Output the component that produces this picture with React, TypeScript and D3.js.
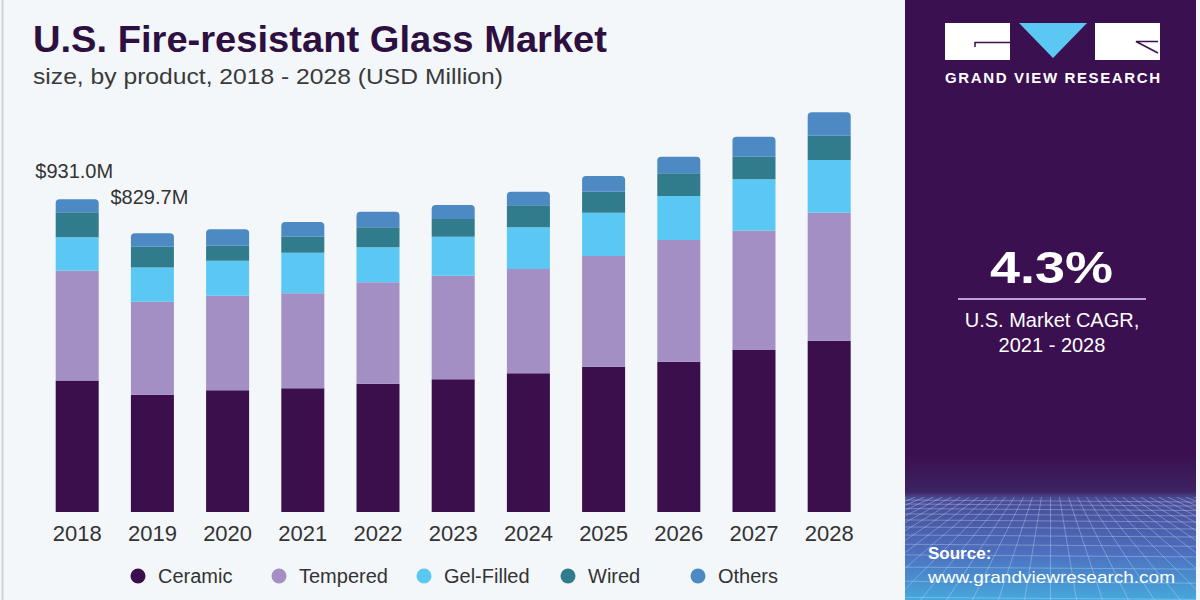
import React, { useEffect, useRef } from 'react';
import * as d3 from 'd3';

const years = ['2018', '2019', '2020', '2021', '2022', '2023', '2024', '2025', '2026', '2027', '2028'];
const ceramic = [391.5, 349.2, 362.3, 368.3, 382.0, 395.0, 412.9, 432.6, 447.4, 482.3, 510.0];
const tempered = [326.9, 276.8, 281.6, 282.8, 301.9, 308.4, 310.5, 329.6, 362.3, 355.2, 381.1];
const gelFilled = [99.4, 101.7, 104.2, 120.9, 104.2, 116.1, 124.1, 128.9, 131.0, 153.0, 156.9];
const wired = [74.4, 62.3, 44.7, 47.6, 59.5, 52.7, 65.5, 62.5, 67.6, 67.3, 72.3];
const others = [38.8, 39.7, 48.8, 43.8, 46.4, 41.7, 40.5, 46.7, 49.4, 59.5, 69.7];
const valueLabels = ['$931.0M', '$829.7M'];
const seriesNames = ['Ceramic', 'Tempered', 'Gel-Filled', 'Wired', 'Others'];
const seriesColors = ['#3b0f4b', '#a38fc4', '#5ac8f2', '#307b8c', '#4d89c2'];

const FONT = '"Liberation Sans", Arial, sans-serif';

export default function App() {
  const svgRef = useRef<SVGSVGElement>(null);

  useEffect(() => {
    if (!svgRef.current) return;
    const W = 1200, H = 600;
    const svg = d3.select(svgRef.current);
    svg.selectAll('*').remove();

    const rows = years.map((yr, i) => ({
      year: yr,
      Ceramic: ceramic[i],
      Tempered: tempered[i],
      'Gel-Filled': gelFilled[i],
      Wired: wired[i],
      Others: others[i],
    }));

    // background
    svg.append('rect').attr('width', W).attr('height', H).attr('fill', '#f3f7fa');
    svg.append('line').attr('x1', 2.5).attr('x2', 2.5).attr('y1', 0).attr('y2', H)
      .attr('stroke', '#cdd3da').attr('stroke-width', 2);

    // title
    svg.append('text').attr('x', 33).attr('y', 52)
      .attr('font-family', FONT).attr('font-weight', 'bold').attr('font-size', 36)
      .attr('fill', '#2d0f40').attr('textLength', 574).attr('lengthAdjust', 'spacingAndGlyphs')
      .text('U.S. Fire-resistant Glass Market');
    svg.append('text').attr('x', 33).attr('y', 84)
      .attr('font-family', FONT).attr('font-size', 22)
      .attr('fill', '#3a3a3a').attr('textLength', 470).attr('lengthAdjust', 'spacingAndGlyphs')
      .text('size, by product, 2018 - 2028 (USD Million)');

    // scales
    const x = d3.scaleBand<string>().domain(years).range([55.7, 850.7]).paddingInner(0.428).paddingOuter(0);
    const y = d3.scaleLinear().domain([0, 931]).range([512, 199.3]);

    const stack = d3.stack<any>().keys(seriesNames);
    const series = stack(rows);
    const color = d3.scaleOrdinal<string, string>().domain(seriesNames).range(seriesColors);

    const g = svg.append('g');
    const last = seriesNames.length - 1;
    series.forEach((s, si) => {
      g.selectAll(null)
        .data(s)
        .enter()
        .append('path')
        .attr('fill', color(s.key))
        .attr('d', (d: any) => {
          const x0 = x(d.data.year) as number;
          const w = x.bandwidth();
          const yTop = y(d[1]);
          const yBot = y(d[0]);
          const r = si === last ? 4 : 0;
          return `M${x0},${yBot}L${x0},${yTop + r}Q${x0},${yTop} ${x0 + r},${yTop}` +
            `L${x0 + w - r},${yTop}Q${x0 + w},${yTop} ${x0 + w},${yTop + r}L${x0 + w},${yBot}Z`;
        });
    });

    // value labels (2018 and 2019 only)
    const labelDy = [-21, -29];
    g.selectAll(null)
      .data(valueLabels)
      .enter()
      .append('text')
      .attr('x', (_d, i) => (x(years[i]) as number) + x.bandwidth() / 2 - 3)
      .attr('y', (_d, i) => y(series[last][i][1]) + labelDy[i])
      .attr('text-anchor', 'middle')
      .attr('font-family', FONT).attr('font-size', 20).attr('fill', '#333')
      .text(d => d);

    // x axis labels
    const axis = g.append('g').attr('transform', 'translate(0,512)')
      .call(d3.axisBottom(x).tickSize(0).tickPadding(10));
    axis.select('.domain').remove();
    axis.selectAll('text')
      .attr('font-family', FONT).attr('font-size', 22).attr('fill', '#333')
      .attr('dy', '0.85em');

    // legend
    const legendX = [138, 279, 424, 568, 698];
    const lg = svg.append('g');
    seriesNames.forEach((name, i) => {
      lg.append('circle').attr('cx', legendX[i]).attr('cy', 576).attr('r', 7.5).attr('fill', color(name));
      lg.append('text').attr('x', legendX[i] + 20).attr('y', 583)
        .attr('font-family', FONT).attr('font-size', 20).attr('fill', '#333')
        .text(name);
    });

    // right panel
    const px0 = 905, px1 = 1196, pcx = (px0 + px1) / 2;
    const defs = svg.append('defs');
    const pg = defs.append('linearGradient').attr('id', 'panelGrad')
      .attr('x1', 0).attr('y1', 0).attr('x2', 0).attr('y2', 1);
    pg.append('stop').attr('offset', '0%').attr('stop-color', '#3a1050');
    pg.append('stop').attr('offset', '76%').attr('stop-color', '#3a1050');
    pg.append('stop').attr('offset', '82%').attr('stop-color', '#3d2463');
    pg.append('stop').attr('offset', '83%').attr('stop-color', '#4a4a94');
    pg.append('stop').attr('offset', '92%').attr('stop-color', '#4d6fbe');
    pg.append('stop').attr('offset', '100%').attr('stop-color', '#46a8dc');
    svg.append('rect').attr('x', px0).attr('y', 0).attr('width', px1 - px0).attr('height', H)
      .attr('fill', 'url(#panelGrad)');

    // perspective grid at bottom of the panel
    const clip = defs.append('clipPath').attr('id', 'gridClip');
    clip.append('rect').attr('x', px0).attr('y', 497).attr('width', px1 - px0).attr('height', H - 497);
    const grid = svg.append('g').attr('clip-path', 'url(#gridClip)')
      .attr('stroke', '#cfe2ff').attr('stroke-opacity', 0.35).attr('stroke-width', 1).attr('fill', 'none');
    let gy = 500, step = 4;
    while (gy < H) {
      grid.append('line').attr('x1', px0).attr('x2', px1).attr('y1', gy).attr('y2', gy + 2);
      gy += step;
      step *= 1.15;
    }
    d3.range(-30, 31).forEach(k => {
      const xTop = pcx + k * 9;
      const xBot = pcx + k * 26;
      grid.append('line').attr('x1', xTop).attr('y1', 497).attr('x2', xBot).attr('y2', H);
    });

    // logo
    const logo = svg.append('g');
    logo.append('rect').attr('x', 945).attr('y', 23).attr('width', 65).attr('height', 37).attr('fill', '#ffffff');
    logo.append('path').attr('d', 'M1019,23L1087,23L1053,58Z').attr('fill', '#5ac8f2');
    logo.append('rect').attr('x', 1095).attr('y', 23).attr('width', 65).attr('height', 37).attr('fill', '#ffffff');
    logo.append('path').attr('d', 'M975,47L975,42.5L1010,42.5').attr('stroke', '#3a1050').attr('stroke-width', 1.5).attr('fill', 'none');
    logo.append('path').attr('d', 'M1158,41.5L1136,41.5L1158,53').attr('stroke', '#3a1050').attr('stroke-width', 1.5).attr('fill', 'none');
    logo.append('text').attr('x', 1052.5).attr('y', 83).attr('text-anchor', 'middle')
      .attr('font-family', FONT).attr('font-weight', 'bold').attr('font-size', 15)
      .attr('fill', '#ffffff').attr('textLength', 215).attr('lengthAdjust', 'spacing')
      .text('GRAND VIEW RESEARCH');

    // CAGR
    svg.append('text').attr('x', 1051.5).attr('y', 283).attr('text-anchor', 'middle')
      .attr('font-family', FONT).attr('font-weight', 'bold').attr('font-size', 45)
      .attr('fill', '#ffffff').attr('textLength', 123).attr('lengthAdjust', 'spacingAndGlyphs')
      .text('4.3%');
    svg.append('line').attr('x1', 958).attr('x2', 1146).attr('y1', 299).attr('y2', 299)
      .attr('stroke', '#b9a3d8').attr('stroke-width', 2);
    svg.append('text').attr('x', 1052).attr('y', 327).attr('text-anchor', 'middle')
      .attr('font-family', FONT).attr('font-size', 20).attr('fill', '#ffffff')
      .text('U.S. Market CAGR,');
    svg.append('text').attr('x', 1052).attr('y', 352).attr('text-anchor', 'middle')
      .attr('font-family', FONT).attr('font-size', 20).attr('fill', '#ffffff')
      .text('2021 - 2028');

    // source
    svg.append('text').attr('x', 928).attr('y', 559)
      .attr('font-family', FONT).attr('font-weight', 'bold').attr('font-size', 17).attr('fill', '#ffffff')
      .text('Source:');
    svg.append('text').attr('x', 928).attr('y', 583)
      .attr('font-family', FONT).attr('font-size', 17).attr('fill', '#ffffff')
      .attr('textLength', 247).attr('lengthAdjust', 'spacingAndGlyphs')
      .text('www.grandviewresearch.com');
  }, []);

  return (
    <div style={{ position: 'absolute', left: 0, top: 0, width: 1200, height: 600 }}>
      <svg ref={svgRef} width={1200} height={600} style={{ display: 'block' }} />
    </div>
  );
}
